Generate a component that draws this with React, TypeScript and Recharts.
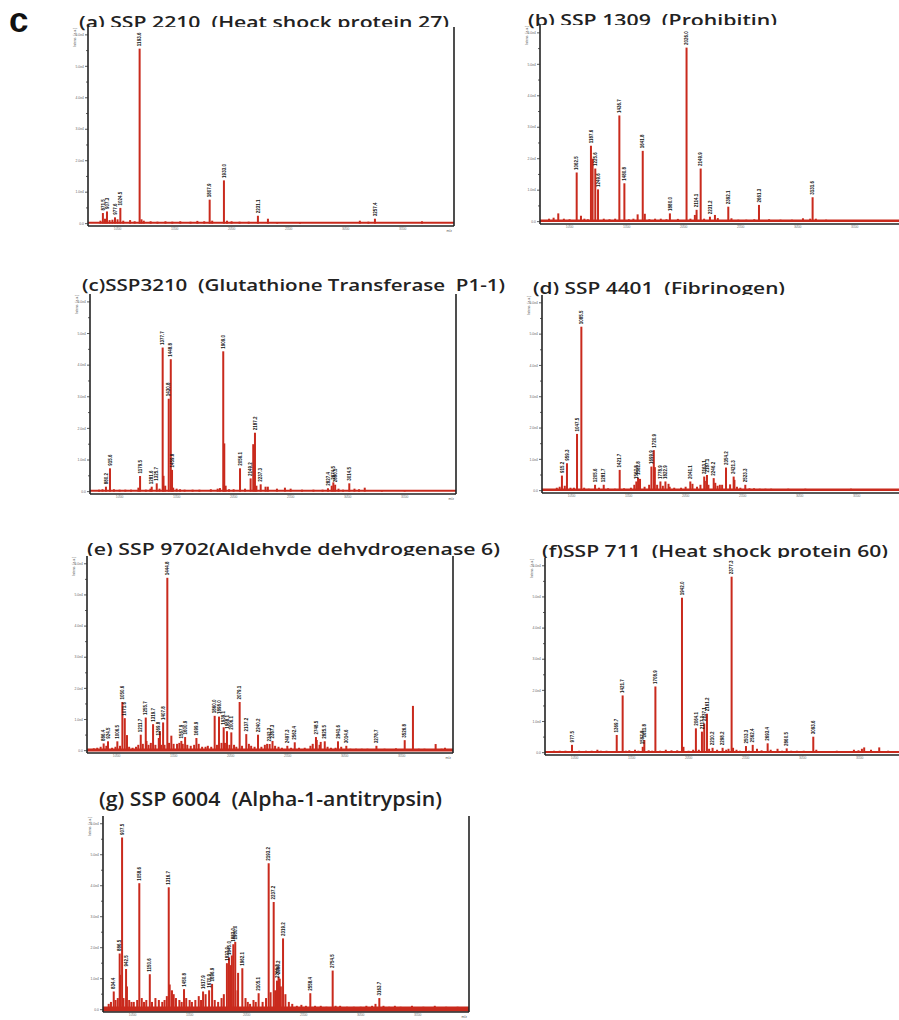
import React from 'react';
import { BarChart, Bar, XAxis, YAxis, CartesianGrid, ReferenceLine, LabelList, Label } from 'recharts';

const RED = '#c92a1d';
const MZ_DOMAIN = [740, 3950];
const mzTicks = [1000, 1500, 2000, 2500, 3000, 3500];
const intTicks = [0, 8, 16, 24, 32, 40, 48, 56, 64, 72, 80, 88, 96];

// (a) SSP 2210 (Heat shock protein 27)
const aPeakMz = [871.5, 907.3, 977.6, 1024.5, 1193.6, 1807.9, 1933.0, 2231.1, 3257.4];
const aPeakInt = [5.4, 6.2, 3.2, 8.0, 89, 12.2, 22, 4.0, 2.5];
const aNoiseMz = [850, 890, 930, 955, 1000, 1050, 1110, 1150, 1210, 1230, 1290, 1350, 1420, 1480, 1550, 1640, 1700, 1760, 1830, 1960, 2000, 2070, 2150, 2319, 2400, 2600, 3125, 3200, 3670];
const aNoiseInt = [1.5, 2.5, 1.8, 2, 2.2, 1.5, 1.8, 1.2, 2.2, 1.5, 1.2, 1, 1.2, 1, 1.2, 1, 1.4, 1.2, 1.5, 1.5, 1.2, 1, 1, 2.5, 0.8, 0.8, 1.5, 1, 1.2];

// (b) SSP 1309 (Prohibitin)
const bPeakMz = [1062.5, 1187.6, 1225.6, 1249.6, 1436.7, 1480.8, 1641.8, 1880.0, 2026.0, 2114.1, 2149.9, 2231.2, 2392.1, 2661.3, 3131.6];
const bPeakInt = [25, 38.6, 27, 16.4, 54, 19.5, 36, 4.2, 88.5, 6, 27, 2.5, 7.6, 8.5, 12.4];
const bNoiseMz = [820, 860, 901, 950, 1000, 1100, 1130, 1160, 1202, 1300, 1350, 1400, 1520, 1560, 1597, 1660, 1700, 1750, 1800, 1850, 1950, 2060, 2099, 2180, 2275, 2300, 2420, 2480, 2550, 2620, 2750, 2850, 2950, 3047, 3110, 3160, 3250, 3400];
const bNoiseInt = [1.5, 2, 4.2, 1.5, 1.2, 3, 1.5, 1.2, 32, 1.5, 1.2, 1.5, 1.2, 1.5, 3.7, 4, 1.2, 1.5, 1.5, 1.2, 1.4, 1.5, 3.4, 1.5, 3.4, 1.8, 1.7, 1, 1, 1.2, 1.2, 1, 1, 1.7, 1.5, 1.5, 1, 0.8];

// (c) SSP3210 (Glutathione Transferase P1-1)
const cPeakMz = [880.2, 915.6, 1179.5, 1281.6, 1325.7, 1377.7, 1430.8, 1448.8, 1459.8, 1909.0, 2056.1, 2149.2, 2187.2, 2237.3, 2827.4, 2874.5, 2890.5, 3014.5];
const cPeakInt = [2.5, 11.8, 7.9, 2.5, 4.2, 72.9, 47, 67, 11, 71, 11.8, 6.7, 29.8, 3.7, 1.7, 4.7, 3.5, 4.2];
const cNoiseMz = [820, 850, 950, 1000, 1050, 1100, 1165, 1230, 1270, 1350, 1385, 1400, 1470, 1500, 1530, 1570, 1640, 1700, 1800, 1860, 1880, 1918, 1930, 1960, 2000, 2100, 2172, 2200, 2280, 2300, 2380, 2450, 2500, 2600, 2700, 2780, 2860, 2920, 2960, 3060, 3100, 3150, 3300, 3500];
const cNoiseInt = [1, 1.2, 1.2, 1, 1, 1, 2, 1, 1.5, 1.5, 8, 3, 2, 1.5, 1.2, 1, 1, 1, 1.2, 1.5, 1.8, 24.4, 3, 1.2, 1.2, 1.5, 24, 3, 2.5, 2.5, 1.5, 2, 1.5, 1, 1, 1, 3, 1.5, 1, 1.5, 1.2, 2, 0.8, 0.5];

// (d) SSP 4401 (Fibrinogen)
const dPeakMz = [915.2, 959.3, 1047.5, 1085.5, 1205.6, 1281.7, 1421.7, 1567.8, 1582.8, 1699.9, 1720.9, 1778.9, 1822.9, 2041.1, 2163.1, 2187.1, 2246.2, 2354.2, 2421.3, 2523.3];
const dPeakInt = [7.7, 14, 29, 83.8, 3, 3, 10.6, 4.7, 6.7, 12.3, 20.7, 4.7, 4.7, 4.7, 7.2, 8, 6.4, 11.8, 7.2, 3];
const dNoiseMz = [870, 895, 940, 990, 1020, 1110, 1150, 1240, 1320, 1380, 1460, 1520, 1550, 1600, 1640, 1680, 1730, 1750, 1800, 1850, 1860, 1900, 1960, 2000, 2060, 2100, 2130, 2180, 2200, 2260, 2280, 2300, 2320, 2390, 2428, 2450, 2480, 2560, 2600, 2650, 2700, 2750, 2900, 3050, 3200, 3450];
const dNoiseInt = [1.5, 2, 2.5, 1.5, 1.5, 1.5, 1, 1.5, 1.2, 1, 1.2, 1.5, 3, 6, 2, 3, 12, 3, 2.5, 3.5, 2, 1.5, 1.5, 2, 3.5, 2, 3, 5, 3, 4, 2.5, 3, 3, 3.2, 5.5, 2, 1.5, 1.2, 1.2, 1, 1, 1, 1, 1, 0.8, 1];

// (e) SSP 9702 (Aldehyde dehydrogenase 6)
const ePeakMz = [886.4, 924.5, 1006.5, 1050.6, 1071.6, 1211.7, 1255.7, 1319.7, 1369.8, 1407.8, 1444.8, 1567.9, 1600.9, 1699.9, 1860.0, 1898.0, 1939.1, 1968.1, 2006.1, 2079.1, 2137.2, 2240.2, 2342.3, 2367.3, 2497.3, 2562.4, 2748.5, 2825.5, 2941.6, 3014.6, 3278.7, 3526.8];
const ePeakInt = [3.7, 4.8, 4.8, 25, 16.7, 8.2, 17, 13.6, 6.5, 14.5, 88.8, 5, 7, 6.5, 17.9, 17.5, 12, 10, 9.4, 25, 8.5, 8.2, 3.4, 5, 2.5, 4.3, 7, 4.8, 4.8, 2.5, 2.5, 5.4];
const eNoiseMz = [800, 830, 860, 910, 960, 990, 1030, 1091, 1110, 1140, 1170, 1190, 1230, 1262, 1280, 1300, 1340, 1380, 1390, 1420, 1460, 1480, 1500, 1530, 1550, 1580, 1620, 1650, 1680, 1720, 1750, 1780, 1800, 1830, 1880, 1920, 1950, 1990, 2030, 2050, 2100, 2160, 2180, 2210, 2270, 2300, 2320, 2390, 2420, 2450, 2530, 2600, 2650, 2700, 2720, 2755, 2780, 2790, 2850, 2880, 2920, 2970, 3050, 3100, 3150, 3200, 3350, 3450, 3599, 3650, 3700, 3798, 3850, 3880];
const eNoiseInt = [1.2, 1.5, 2, 2.5, 1.5, 2, 2.5, 8, 2, 1.5, 2, 3, 3.5, 5, 3, 4, 3, 10, 3, 3, 4, 7.7, 3.5, 3.5, 4, 3.5, 3, 2.5, 3, 3.5, 2, 2, 2.5, 2, 3, 4, 4, 3, 3, 2, 2.5, 3.5, 2.5, 2, 2, 3, 3.5, 2.5, 2, 1.5, 1.5, 1.5, 1.5, 2.5, 3.5, 5.5, 3, 4.5, 2, 1.5, 1.5, 2, 1, 1, 1, 1, 1, 1.2, 23, 1, 1, 3.4, 1, 1.5];

// (f) SSP 711 (Heat shock protein 60)
const fPeakMz = [977.5, 1369.7, 1421.7, 1597.8, 1611.8, 1708.9, 1942.0, 2064.1, 2117.1, 2137.1, 2161.2, 2210.2, 2298.2, 2377.3, 2503.3, 2562.4, 2693.4, 2860.5, 3093.6];
const fPeakInt = [4, 9.1, 29.4, 3, 6.5, 34, 79.6, 12.5, 10.8, 15, 20, 2.5, 2.5, 90.4, 3.4, 4, 4.8, 2.2, 8.2];
const fNoiseMz = [820, 870, 920, 1040, 1100, 1150, 1200, 1230, 1280, 1330, 1450, 1480, 1530, 1560, 1650, 1680, 1750, 1800, 1850, 1900, 1955, 2000, 2040, 2090, 2180, 2250, 2330, 2350, 2390, 2420, 2450, 2530, 2600, 2640, 2720, 2780, 2820, 2900, 2950, 3010, 3120, 3200, 3300, 3450, 3490, 3520, 3540, 3600, 3672, 3750];
const fNoiseInt = [1, 1, 1, 1, 1, 1, 1.5, 1, 1, 0.8, 1, 1.2, 1.5, 1, 1.2, 1, 1, 1.5, 1.2, 1.2, 3, 1, 1.5, 1.5, 2, 1.5, 1.5, 2, 2.5, 1.5, 1, 1, 2, 1.2, 1.5, 2, 1, 1, 1, 1, 1.5, 0.8, 1, 1.5, 1.2, 2, 2.7, 1.5, 2.7, 1];

// (g) SSP 6004 (Alpha-1-antitrypsin)
const gPeakMz = [834.4, 886.5, 907.5, 942.5, 1058.6, 1150.6, 1316.7, 1450.8, 1617.9, 1670.9, 1696.9, 1827.0, 1845.0, 1883.0, 1900.0, 1962.1, 2105.1, 2193.2, 2237.2, 2266.2, 2280.2, 2319.2, 2558.4, 2754.5, 3163.7];
const gPeakInt = [9.4, 29, 88.9, 21, 65.3, 18.3, 63.2, 10.6, 9.4, 10, 13.3, 24, 27, 33.8, 35, 21.4, 8.5, 75.6, 55.6, 15, 17, 36.8, 8.5, 20.2, 6];
const gNoiseMz = [790, 810, 850, 870, 890, 920, 950, 970, 990, 1010, 1040, 1080, 1100, 1120, 1170, 1200, 1230, 1260, 1280, 1300, 1325, 1345, 1360, 1380, 1410, 1430, 1470, 1500, 1520, 1550, 1580, 1600, 1640, 1720, 1750, 1780, 1800, 1860, 1870, 1920, 1925, 1990, 2010, 2030, 2060, 2080, 2140, 2170, 2210, 2250, 2290, 2300, 2340, 2370, 2400, 2440, 2480, 2520, 2600, 2650, 2700, 2780, 2820, 2880, 2940, 3000, 3050, 3100, 3130, 3200, 3250, 3300, 3350, 3450, 3550, 3650, 3750, 3850];
const gNoiseInt = [3, 4, 5, 6, 18, 6, 12, 5, 4, 4, 5, 6, 4, 5, 4, 6, 5, 4, 5, 7, 13, 10, 8, 6, 5, 4, 6, 5, 4, 5, 7, 5, 8, 5, 4, 6, 8, 23, 28, 10, 19, 6, 4, 3, 5, 4, 4, 6, 9, 10, 16, 12, 8, 4, 3, 2, 2.5, 2, 2, 2, 1.5, 2, 2, 1.5, 1.5, 1.5, 2, 2, 3, 2, 1.5, 2, 1.5, 2, 1.5, 2, 1.5, 1.5];

type Peak = { mz: number; intensity: number; lab: string };

const buildPeaks = (pm: number[], pi: number[], nm: number[], ni: number[]): Peak[] => {
  const out: Peak[] = nm.map((mz, i) => ({ mz, intensity: ni[i], lab: '' }));
  pm.forEach((mz, i) => out.push({ mz, intensity: pi[i], lab: mz.toFixed(1) }));
  return out;
};

const BOX_W = 367;
const Y_AXIS_W = 24;
const X_AXIS_H = 10;

// a stick of fixed width, whatever band width the number axis gives
const Stick = (props: any) => {
  const { x, y, width, height } = props;
  if (!height) return null;
  return <rect x={Number(x) + Number(width) / 2 - 1} y={y} width={2} height={height} fill={RED} />;
};

// vertical m/z label above each annotated peak
const PeakLabel = (props: any) => {
  const { x, y, width, value } = props;
  if (!value) return null;
  const cx = Number(x) + Number(width) / 2;
  return (
    <text transform={`translate(${cx + 1.7},${Number(y) - 2.5}) rotate(-90)`} fontSize={4.5} fontWeight="bold" fill="#111" fontFamily="Arial, sans-serif">
      {value}
    </text>
  );
};

const IntTick = (props: any) => {
  const { x, y, payload } = props;
  const major = payload.value % 16 === 0;
  return (
    <g>
      <line x1={x - (major ? 3 : 2)} x2={x} y1={y} y2={y} stroke="#333" strokeWidth={0.8} />
      {major && (
        <text x={x - 4} y={y + 1.2} textAnchor="end" fontSize={3.4} fill="#666" fontFamily="Arial, sans-serif">
          {payload.value === 0 ? '0.0' : `${(payload.value / 16).toFixed(1)}e4`}
        </text>
      )}
    </g>
  );
};

const AxisTitle = (props: any) => {
  const { x, y, width } = props.viewBox;
  return (
    <text transform={`translate(${x + width - 12},${y + 1}) rotate(-90)`} textAnchor="end" fontSize={3.4} fill="#555" fontFamily="Arial, sans-serif">
      Intens. [a.u.]
    </text>
  );
};

const MzTitle = (props: any) => {
  const { x, y, width } = props.viewBox;
  return (
    <text x={x + width - 2} y={y + 6} textAnchor="end" fontSize={3.4} fill="#555" fontFamily="Arial, sans-serif">
      m/z
    </text>
  );
};

type SpectrumProps = { left: number; top: number; height: number; data: Peak[]; floor: number };

const Spectrum = ({ left, top, height, data, floor }: SpectrumProps) => {
  // panels on the right run past the page edge, as in the figure; their m/z caption is not visible there
  const showMz = left + BOX_W < 899;
  return (
    <div style={{ position: 'absolute', left: left - Y_AXIS_W, top: top - 2 }}>
      <BarChart width={Y_AXIS_W + BOX_W + 2} height={height + 2 + X_AXIS_H} data={data} margin={{ top: 2, right: 2, left: 0, bottom: 0 }}>
        <CartesianGrid horizontal={false} vertical={false} fill="#fff" />
        <XAxis xAxisId="b" dataKey="mz" type="number" domain={MZ_DOMAIN} ticks={mzTicks} allowDataOverflow height={X_AXIS_H} interval={0}
          tick={{ fontSize: 3.4, fill: '#777', fontFamily: 'Arial, sans-serif' }} tickSize={1.5} tickMargin={0.5}
          axisLine={{ stroke: '#222', strokeWidth: 1.6 }} tickLine={{ stroke: '#555', strokeWidth: 0.6 }}>
          {showMz && <Label content={MzTitle} />}
        </XAxis>
        <XAxis xAxisId="t" orientation="top" dataKey="mz" type="number" domain={MZ_DOMAIN} allowDataOverflow height={0}
          tick={false} tickLine={false} axisLine={{ stroke: '#222', strokeWidth: 1.6 }} />
        <YAxis yAxisId="l" type="number" domain={[-1.2, 100]} ticks={intTicks} allowDataOverflow width={Y_AXIS_W} interval={0}
          tick={<IntTick />} tickLine={false} tickSize={0} tickMargin={0} axisLine={{ stroke: '#222', strokeWidth: 1.6 }}>
          <Label content={AxisTitle} />
        </YAxis>
        <YAxis yAxisId="r" orientation="right" type="number" domain={[-1.2, 100]} allowDataOverflow width={1}
          tick={false} tickLine={false} axisLine={{ stroke: '#222', strokeWidth: 1.6 }} />
        <ReferenceLine xAxisId="b" yAxisId="l" y={0.4} stroke={RED} strokeWidth={floor} />
        <Bar xAxisId="b" yAxisId="l" dataKey="intensity" fill={RED} barSize={2} shape={Stick} isAnimationActive={false}>
          <LabelList dataKey="lab" content={PeakLabel} />
        </Bar>
      </BarChart>
    </div>
  );
};

const titles = [
  { text: '(a) SSP 2210  (Heat shock protein 27)', x: 79, y: 28, w: 370, size: 17 },
  { text: '(b) SSP 1309  (Prohibitin)', x: 528, y: 26, w: 249, size: 17 },
  { text: '(c)SSP3210  (Glutathione Transferase  P1-1)', x: 82, y: 291, w: 423, size: 17 },
  { text: '(d) SSP 4401  (Fibrinogen)', x: 533, y: 294, w: 252, size: 17 },
  { text: '(e) SSP 9702(Aldehyde dehydrogenase 6)', x: 87, y: 555, w: 413, size: 17 },
  { text: '(f)SSP 711  (Heat shock protein 60)', x: 542, y: 557, w: 346, size: 17 },
  { text: '(g) SSP 6004  (Alpha-1-antitrypsin)', x: 99, y: 806, w: 343, size: 19 },
];

export default function App() {
  return (
    <div style={{ position: 'absolute', left: 0, top: 0, width: 899, height: 1020, overflow: 'hidden', background: '#fff' }}>
      <svg width={899} height={1020} style={{ position: 'absolute', left: 0, top: 0 }}>
        <text x={9} y={32} fontSize={35} fontWeight="bold" fontFamily="'Liberation Sans', Arial, sans-serif" fill="#111">c</text>
        {titles.map((t) => (
          <text key={t.text} x={t.x} y={t.y} fontSize={t.size} fontWeight={600} fontFamily="'Open Sans', sans-serif" fill="#222"
            textLength={t.w} lengthAdjust="spacingAndGlyphs" style={{ whiteSpace: 'pre' }}>
            {t.text}
          </text>
        ))}
      </svg>
      <Spectrum left={88} top={27} height={199} floor={2} data={buildPeaks(aPeakMz, aPeakInt, aNoiseMz, aNoiseInt)} />
      <Spectrum left={540} top={25} height={199} floor={2.5} data={buildPeaks(bPeakMz, bPeakInt, bNoiseMz, bNoiseInt)} />
      <Spectrum left={90} top={294} height={200} floor={2} data={buildPeaks(cPeakMz, cPeakInt, cNoiseMz, cNoiseInt)} />
      <Spectrum left={542} top={295} height={198} floor={2.5} data={buildPeaks(dPeakMz, dPeakInt, dNoiseMz, dNoiseInt)} />
      <Spectrum left={87} top={556} height={197} floor={3} data={buildPeaks(ePeakMz, ePeakInt, eNoiseMz, eNoiseInt)} />
      <Spectrum left={545} top={558} height={197} floor={2} data={buildPeaks(fPeakMz, fPeakInt, fNoiseMz, fNoiseInt)} />
      <Spectrum left={103} top={816} height={196} floor={5} data={buildPeaks(gPeakMz, gPeakInt, gNoiseMz, gNoiseInt)} />
    </div>
  );
}
